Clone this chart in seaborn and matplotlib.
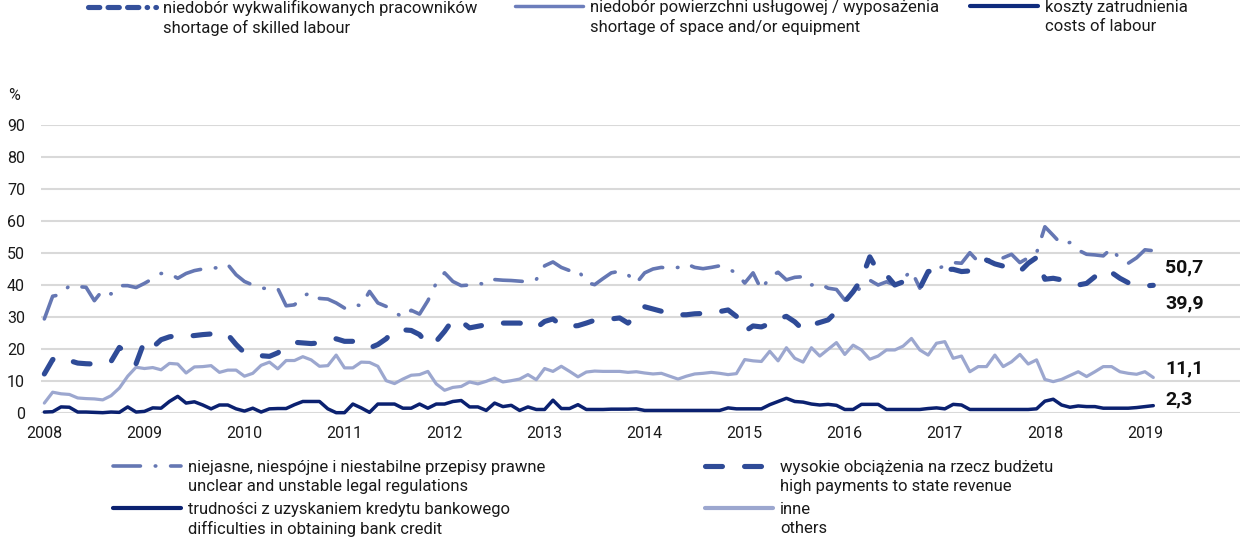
import numpy as np
import pandas as pd
import matplotlib
matplotlib.use("Agg")
import matplotlib.pyplot as plt
from matplotlib.lines import Line2D
import seaborn as sns

# Monthly survey shares (%), January 2008 - February 2019
years = list(range(2008, 2020))

legal = [29.4, 36.5, 37.0, 39.8, 39.5, 39.3, 35.1, 38.4, 37.2, 39.8, 39.8, 39.2,
         40.5, 42.0, 43.6, 43.6, 42.1, 43.6, 44.5, 45.0, 45.3, 45.4, 46.4, 43.2,
         41.1, 40.0, 39.0, 38.9, 38.9, 33.5, 33.8, 36.5, 37.7, 35.8, 35.6, 34.4,
         32.8, 34.0, 33.5, 38.0, 34.4, 33.3, 31.5, 29.9, 32.1, 30.9, 35.1, 40.6,
         43.8, 41.1, 39.8, 40.0, 40.6, 40.1, 41.7, 41.5, 41.4, 41.2, 41.0, 41.7,
         46.0, 47.2, 45.5, 44.5, 44.8, 40.8, 40.1, 42.0, 43.8, 44.3, 43.2, 40.6,
         43.8, 45.0, 45.5, 45.2, 45.5, 46.6, 45.5, 45.1, 45.5, 46.0, 45.0, 43.8,
         40.6, 43.8, 38.5, 42.5, 44.0, 41.6, 42.4, 42.6, 40.0, 40.5, 39.0, 38.6,
         35.3, 36.9, 39.5, 41.5, 40.0, 41.0, 40.0, 42.0, 44.5, 39.0, 44.0, 45.0,
         46.0, 47.0, 46.8, 50.1, 47.3, 48.0, 47.5, 48.5, 49.6, 47.0, 48.5, 50.0,
         58.2, 55.5, 52.7, 53.3, 50.9, 49.6, 49.4, 49.1, 51.5, 48.0, 46.8, 48.5,
         51.0, 50.7]

budget = [12.2, 16.7, 17.7, 16.4, 15.6, 15.4, 15.3, 15.6, 16.1, 20.5, 18.5, 15.4,
          22.4, 20.5, 22.9, 23.8, 24.2, 24.0, 24.2, 24.5, 24.7, 24.0, 24.5, 21.4,
          18.8, 18.2, 17.9, 17.7, 18.8, 20.8, 22.1, 21.9, 21.7, 21.9, 22.4, 23.2,
          22.4, 22.4, 21.5, 20.3, 21.4, 23.2, 26.0, 26.0, 25.8, 24.5, 21.4, 22.4,
          25.5, 29.2, 28.6, 26.6, 27.1, 27.6, 27.9, 28.1, 28.1, 28.1, 27.6, 26.6,
          28.6, 29.4, 27.3, 27.1, 27.3, 28.1, 29.0, 29.2, 29.4, 29.7, 28.1, 30.7,
          33.2, 32.5, 31.8, 31.0, 30.7, 30.7, 31.0, 31.1, 31.4, 31.7, 32.2, 30.2,
          25.5, 27.2, 26.9, 27.9, 29.5, 30.2, 28.5, 26.0, 27.5, 28.3, 29.1, 31.7,
          34.8, 37.9, 41.8, 48.8, 44.2, 43.1, 40.0, 41.0, 40.0, 39.0, 44.2, 44.7,
          44.9, 44.9, 44.2, 44.4, 46.0, 47.8, 46.6, 45.9, 44.7, 44.2, 46.8, 48.6,
          41.8, 42.1, 41.6, 41.3, 40.0, 40.5, 42.6, 44.7, 43.9, 42.1, 40.7, 40.0,
          39.7, 39.9]

credit = [0.3, 0.4, 1.9, 1.8, 0.3, 0.3, 0.2, 0.1, 0.3, 0.2, 1.9, 0.3,
          0.5, 1.6, 1.5, 3.6, 5.2, 3.1, 3.5, 2.5, 1.3, 2.5, 2.5, 1.3,
          0.6, 1.5, 0.3, 1.3, 1.4, 1.4, 2.6, 3.6, 3.6, 3.6, 1.3, 0.1,
          0.1, 2.8, 1.6, 0.2, 2.8, 2.8, 2.8, 1.5, 1.5, 2.8, 1.5, 2.8,
          2.8, 3.6, 3.9, 1.9, 1.9, 0.8, 3.1, 2.0, 2.4, 0.8, 1.9, 1.1,
          1.1, 4.0, 1.4, 1.4, 2.6, 1.1, 1.1, 1.1, 1.2, 1.2, 1.2, 1.3,
          0.8, 0.8, 0.8, 0.8, 0.8, 0.8, 0.8, 0.8, 0.8, 0.8, 1.6, 1.3,
          1.3, 1.3, 1.3, 2.6, 3.6, 4.6, 3.6, 3.4, 2.8, 2.5, 2.7, 2.4,
          1.1, 1.1, 2.7, 2.7, 2.7, 1.1, 1.1, 1.1, 1.1, 1.1, 1.4, 1.6,
          1.3, 2.7, 2.5, 1.1, 1.1, 1.1, 1.1, 1.1, 1.1, 1.1, 1.1, 1.3,
          3.7, 4.3, 2.5, 1.8, 2.2, 2.0, 2.0, 1.5, 1.5, 1.5, 1.5, 1.7,
          2.0, 2.3]

other = [3.1, 6.5, 6.0, 5.8, 4.7, 4.5, 4.4, 4.1, 5.4, 7.8, 11.5, 14.3,
         13.9, 14.2, 13.5, 15.5, 15.3, 12.5, 14.4, 14.5, 14.8, 12.7, 13.4, 13.4,
         11.5, 12.4, 14.9, 15.9, 13.8, 16.4, 16.4, 17.6, 16.6, 14.6, 14.8, 18.1,
         14.1, 14.1, 15.9, 15.8, 14.6, 10.1, 9.2, 10.6, 11.8, 12.0, 13.0, 9.1,
         7.1, 8.0, 8.3, 9.7, 9.1, 9.9, 10.9, 9.7, 10.1, 10.6, 12.0, 10.4,
         13.9, 13.0, 14.6, 13.0, 11.3, 12.8, 13.1, 13.0, 13.0, 13.0, 12.7, 12.9,
         12.5, 12.2, 12.4, 11.5, 10.6, 11.5, 12.2, 12.4, 12.7, 12.4, 12.0, 12.3,
         16.7, 16.3, 16.1, 19.3, 16.3, 20.4, 17.1, 15.9, 20.4, 17.8, 19.9, 22.0,
         18.3, 21.2, 19.7, 16.8, 17.8, 19.7, 19.7, 20.9, 23.3, 19.7, 18.1, 21.8,
         22.3, 17.1, 17.8, 12.9, 14.5, 14.5, 18.1, 14.5, 16.0, 18.3, 15.3, 16.6,
         10.5, 9.8, 10.5, 11.7, 12.9, 11.4, 12.9, 14.5, 14.5, 12.9, 12.4, 12.1,
         12.9, 11.1]

labels_pl = {
    "skilled": "niedobór wykwalifikowanych pracowników",
    "space": "niedobór powierzchni usługowej / wyposażenia",
    "labour": "koszty zatrudnienia",
    "legal": "niejasne, niespójne i niestabilne przepisy prawne",
    "budget": "wysokie obciążenia na rzecz budżetu",
    "credit": "trudności z uzyskaniem kredytu bankowego",
    "other": "inne",
}
labels_en = {
    "skilled": "shortage of skilled labour",
    "space": "shortage of space and/or equipment",
    "labour": "costs of labour",
    "legal": "unclear and unstable legal regulations",
    "budget": "high payments to state revenue",
    "credit": "difficulties in obtaining bank credit",
    "other": "others",
}

C_LEGAL = "#6577b3"
C_BUDGET = "#2f4b97"
C_CREDIT = "#0b2170"
C_OTHER = "#9ca7cf"
C_SKILLED = "#34509b"
C_SPACE = "#6c7dbb"
C_LABOUR = "#0f2b7d"

sns.set_style("white")
plt.rcParams["font.family"] = ["Roboto", "DejaVu Sans"]
plt.rcParams["text.color"] = "#1a1a1a"

W, H = 1240, 555
fig = plt.figure(figsize=(W / 100, H / 100), dpi=100)
ax = fig.add_axes([41 / W, 1 - 413 / H, (W - 41) / W, (413 - 125) / H])

df = pd.DataFrame({"month": np.arange(len(legal)), "legal": legal,
                   "budget": budget, "credit": credit, "other": other})

styles = {
    "other": dict(color=C_OTHER, lw=2.3, linestyle="-"),
    "credit": dict(color=C_CREDIT, lw=2.5, linestyle="-"),
    "legal": dict(color=C_LEGAL, lw=2.6, linestyle=(0, (7.6, 4.1, 0.15, 4.1)),
                  dash_capstyle="round"),
    "budget": dict(color=C_BUDGET, lw=3.7, linestyle=(0, (3.3, 4.3)),
                   dash_capstyle="round"),
}
for key in ["other", "credit", "legal", "budget"]:
    sns.lineplot(data=df, x="month", y=key, ax=ax, clip_on=False,
                 solid_joinstyle="round", solid_capstyle="round", **styles[key])

ax.set_xlim(-0.4, 143.4)
ax.set_ylim(0, 90)
ax.set_yticks(range(0, 100, 10))
ax.set_xticks(range(0, len(legal), 12))
ax.set_xticklabels([str(y) for y in years])
ax.set_xlabel("")
ax.set_ylabel("")
ax.grid(False)
ax.yaxis.grid(True, color="#d9d9d9", lw=1.5)
ax.set_axisbelow(True)
for s in ax.spines.values():
    s.set_visible(False)
ax.tick_params(axis="y", length=0, labelsize=11.5, pad=11.5, labelcolor="#1a1a1a")
ax.tick_params(axis="x", length=0, labelsize=11.5, pad=9, labelcolor="#1a1a1a")

fig.text(8 / W, 1 - 95 / H, "%", fontsize=11.5, va="center", ha="left")

# Latest values at the right end of the series
last = df["month"].iloc[-1]
for key, dy in [("legal", -17), ("budget", -18), ("other", 9), ("credit", 6)]:
    v = df[key].iloc[-1]
    ax.annotate(f"{v:.1f}".replace(".", ","), xy=(last, v), xytext=(12, dy),
                textcoords="offset pixels", fontsize=14, fontweight="bold",
                ha="left", va="center", color="#111111", annotation_clip=False)


def column_legend(handle, key, x_px, y_px):
    blank = Line2D([], [], color="none")
    fig.legend([handle, blank], [labels_pl[key], labels_en[key]],
               loc="upper left", bbox_to_anchor=(x_px / W, 1 - y_px / H),
               frameon=False, fontsize=12, handlelength=4.1, handletextpad=0.42,
               borderpad=0, borderaxespad=0, labelspacing=0.25)


h_skilled = Line2D([], [], color=C_SKILLED, lw=3.7, dash_capstyle="round",
                   linestyle=(0, (2.2, 1.6, 2.2, 1.6, 2.2, 1.6, 0.1, 1.6)))
h_space = Line2D([], [], color=C_SPACE, lw=2.5, solid_capstyle="round")
h_labour = Line2D([], [], color=C_LABOUR, lw=3.0, solid_capstyle="round")
h_legal = Line2D([], [], **{k: v for k, v in styles["legal"].items()})
h_budget = Line2D([], [], **{k: v for k, v in styles["budget"].items()})
h_credit = Line2D([], [], color=C_CREDIT, lw=3.0, solid_capstyle="round")
h_other = Line2D([], [], color=C_OTHER, lw=3.0, solid_capstyle="round")

column_legend(h_skilled, "skilled", 88, 0)
column_legend(h_space, "space", 515, 0)
column_legend(h_labour, "labour", 970, 0)
column_legend(h_legal, "legal", 113, 460)
column_legend(h_budget, "budget", 705, 460)
column_legend(h_credit, "credit", 113, 502)
column_legend(h_other, "other", 705, 502)

fig.savefig("out.png", dpi=100)
